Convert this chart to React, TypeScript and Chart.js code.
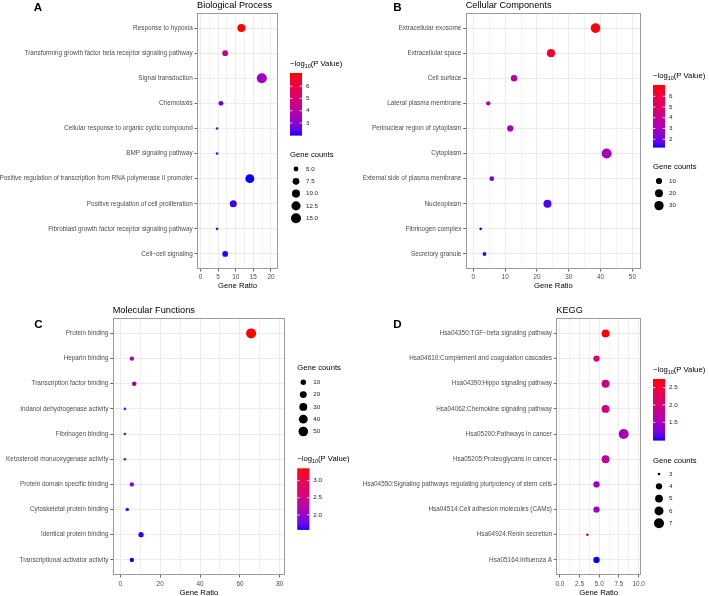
import React, { useEffect, useRef } from 'react';
import { Chart, registerables } from 'chart.js';
Chart.register(...registerables);

const FONT = '"Liberation Sans", Arial, Helvetica, sans-serif';
Chart.defaults.font.family = FONT;

// ---------- Panel A: Biological Process ----------
const bpTerms = [
  'Response to hypoxia',
  'Transforming growth factor beta receptor signaling pathway',
  'Signal transduction',
  'Chemotaxis',
  'Cellular response to organic cyclic compound',
  'BMP signaling pathway',
  'Positive regulation of transcription from RNA polymerase II promoter',
  'Positive regulation of cell proliferation',
  'Fibroblast growth factor receptor signaling pathway',
  'Cell\u2212cell signaling',
];
const bpRatio = [11.6, 7.0, 17.4, 5.8, 4.7, 4.7, 14.0, 9.3, 4.7, 7.0];
const bpCounts = [10, 6, 15, 5, 4, 4, 12, 8, 4, 6];
const bpLogP = [7.08, 4.3, 3.3, 2.6, 2.5, 2.27, 2.02, 2.17, 2.27, 2.1];
const bpXMajor = [0, 5, 10, 15, 20];
const bpXMinor = [2.5, 7.5, 12.5, 17.5];
const bpXLabels = ['0', '5', '10', '15', '20'];
const bpColorTicks = [3, 4, 5, 6];
const bpColorLabels = ['3', '4', '5', '6'];
const bpSizeTicks = [5, 7.5, 10, 12.5, 15];
const bpSizeLabels = ['5.0', '7.5', '10.0', '12.5', '15.0'];

// ---------- Panel B: Cellular Components ----------
const ccTerms = [
  'Extracellular exosome',
  'Extracellular space',
  'Cell surface',
  'Lateral plasma membrane',
  'Perinuclear region of cytoplasm',
  'Cytoplasm',
  'External side of plasma membrane',
  'Nucleoplasm',
  'Fibrinogen complex',
  'Secretory granule',
];
const ccRatio = [38.4, 24.4, 12.8, 4.7, 11.6, 41.9, 5.8, 23.3, 2.3, 3.5];
const ccCounts = [33, 21, 11, 4, 10, 36, 5, 20, 2, 3];
const ccLogP = [7.05, 6.5, 3.6, 3.3, 3.0, 3.0, 2.15, 1.57, 1.28, 1.45];
const ccXMajor = [0, 10, 20, 30, 40, 50];
const ccXMinor = [5, 15, 25, 35, 45];
const ccXLabels = ['0', '10', '20', '30', '40', '50'];
const ccColorTicks = [2, 3, 4, 5, 6];
const ccColorLabels = ['2', '3', '4', '5', '6'];
const ccSizeTicks = [10, 20, 30];
const ccSizeLabels = ['10', '20', '30'];

// ---------- Panel C: Molecular Functions ----------
const mfTerms = [
  'Protein binding',
  'Heparin binding',
  'Transcription factor binding',
  'Indanol dehydrogenase activity',
  'Fibrinogen binding',
  'Ketosteroid monooxygenase activity',
  'Protein domain specific binding',
  'Cytoskeletal protein binding',
  'Identical protein binding',
  'Transcriptional activator activity',
];
const mfRatio = [65.6, 5.8, 7.0, 2.3, 2.3, 2.3, 5.8, 3.5, 10.4, 5.8];
const mfCounts = [56, 5, 6, 2, 2, 2, 5, 3, 9, 5];
const mfLogP = [3.36, 2.1, 2.1, 1.94, 1.94, 1.94, 1.9, 1.76, 1.63, 1.58];
const mfXMajor = [0, 20, 40, 60, 80];
const mfXMinor = [10, 30, 50, 70];
const mfXLabels = ['0', '20', '40', '60', '80'];
const mfColorTicks = [2.0, 2.5, 3.0];
const mfColorLabels = ['2.0', '2.5', '3.0'];
const mfSizeTicks = [10, 20, 30, 40, 50];
const mfSizeLabels = ['10', '20', '30', '40', '50'];

// ---------- Panel D: KEGG ----------
const kgTerms = [
  'Hsa04350:TGF\u2212beta signaling pathway',
  'Hsa04610:Complement and coagulation cascades',
  'Hsa04390:Hippo signaling pathway',
  'Hsa04062:Chemokine signaling pathway',
  'Hsa05200:Pathways in cancer',
  'Hsa05205:Proteoglycans in cancer',
  'Hsa04550:Signaling pathways regulating pluripotency of stem cells',
  'Hsa04514:Cell adhesion molecules (CAMs)',
  'Hsa04924:Renin secretion',
  'Hsa05164:Influenza A',
];
const kgRatio = [5.8, 4.65, 5.8, 5.8, 8.1, 5.8, 4.65, 4.65, 3.5, 4.65];
const kgCounts = [5, 4, 5, 5, 7, 5, 4, 4, 3, 4];
const kgLogP = [2.75, 2.05, 1.87, 1.87, 1.52, 1.7, 1.43, 1.43, 1.43, 0.99];
const kgXMajor = [0, 2.5, 5, 7.5, 10];
const kgXMinor = [1.25, 3.75, 6.25, 8.75];
const kgXLabels = ['0.0', '2.5', '5.0', '7.5', '10.0'];
const kgColorTicks = [1.5, 2.0, 2.5];
const kgColorLabels = ['1.5', '2.0', '2.5'];
const kgSizeTicks = [3, 4, 5, 6, 7];
const kgSizeLabels = ['3', '4', '5', '6', '7'];

// ---------- colour (Lab interpolation blue -> red) ----------
const toLin = (c: number) => { c /= 255; return c <= 0.04045 ? c / 12.92 : Math.pow((c + 0.055) / 1.055, 2.4); };
const fromLin = (c: number) => { const v = c <= 0.0031308 ? 12.92 * c : 1.055 * Math.pow(Math.max(c, 0), 1 / 2.4) - 0.055; return Math.round(Math.min(1, Math.max(0, v)) * 255); };
const WX = 0.95047, WZ = 1.08883, EPS = 216 / 24389, KAP = 24389 / 27;
function rgbToLab(r: number, g: number, b: number) {
  const R = toLin(r), G = toLin(g), B = toLin(b);
  const X = (0.4124564 * R + 0.3575761 * G + 0.1804375 * B) / WX;
  const Y = 0.2126729 * R + 0.7151522 * G + 0.072175 * B;
  const Z = (0.0193339 * R + 0.119192 * G + 0.9503041 * B) / WZ;
  const f = (t: number) => (t > EPS ? Math.cbrt(t) : (KAP * t + 16) / 116);
  const fx = f(X), fy = f(Y), fz = f(Z);
  return [116 * fy - 16, 500 * (fx - fy), 200 * (fy - fz)];
}
function labToRgb(L: number, a: number, b: number) {
  const fy = (L + 16) / 116, fx = fy + a / 500, fz = fy - b / 200;
  const inv = (t: number) => (t * t * t > EPS ? t * t * t : (116 * t - 16) / KAP);
  const X = inv(fx) * WX, Y = L > 8 ? fy * fy * fy : L / KAP, Z = inv(fz) * WZ;
  const R = 3.2404542 * X - 1.5371385 * Y - 0.4985314 * Z;
  const G = -0.969266 * X + 1.8760108 * Y + 0.041556 * Z;
  const B = 0.0556434 * X - 0.2040259 * Y + 1.0572252 * Z;
  return `rgb(${fromLin(R)},${fromLin(G)},${fromLin(B)})`;
}
const LAB_LOW = rgbToLab(0, 0, 255);
const LAB_HIGH = rgbToLab(255, 0, 0);
function gradient(t: number) {
  const u = Math.min(1, Math.max(0, t));
  return labToRgb(
    LAB_LOW[0] + (LAB_HIGH[0] - LAB_LOW[0]) * u,
    LAB_LOW[1] + (LAB_HIGH[1] - LAB_LOW[1]) * u,
    LAB_LOW[2] + (LAB_HIGH[2] - LAB_LOW[2]) * u,
  );
}

const R_MIN = 1.3, R_MAX = 5.0;
const AXIS_FONT = 6.4;

type Box = {
  left: number; top: number; w: number; h: number;
  padTop: number; padRight: number; yWidth: number; xHeight: number; titlePad: number; tickPad: number;
  titleY: number; letterX: number; letterY: number;
  legX: number; cbTitleY: number; cbY: number; cbH: number; szTitleY: number; szY0: number;
};
type Panel = {
  letter: string; title: string; terms: string[]; ratio: number[]; counts: number[]; logp: number[];
  xMin: number; xMax: number; xMajor: number[]; xMinor: number[]; xLabels: string[];
  colorTicks: number[]; colorLabels: string[]; sizeTicks: number[]; sizeLabels: string[]; box: Box;
};

const panels: Panel[] = [
  {
    letter: 'A', title: 'Biological Process', terms: bpTerms, ratio: bpRatio, counts: bpCounts, logp: bpLogP,
    xMin: -1.0, xMax: 22.0, xMajor: bpXMajor, xMinor: bpXMinor, xLabels: bpXLabels,
    colorTicks: bpColorTicks, colorLabels: bpColorLabels, sizeTicks: bpSizeTicks, sizeLabels: bpSizeLabels,
    box: { left: 0, top: 0, w: 355, h: 298, padTop: 13, padRight: 77, yWidth: 197, xHeight: 29, titlePad: 7.2, tickPad: 2.3,
      titleY: 5, letterX: 38, letterY: 8, legX: 290, cbTitleY: 64, cbY: 73, cbH: 62, szTitleY: 155, szY0: 169 },
  },
  {
    letter: 'B', title: 'Cellular Components', terms: ccTerms, ratio: ccRatio, counts: ccCounts, logp: ccLogP,
    xMin: -2.4, xMax: 52.7, xMajor: ccXMajor, xMinor: ccXMinor, xLabels: ccXLabels,
    colorTicks: ccColorTicks, colorLabels: ccColorLabels, sizeTicks: ccSizeTicks, sizeLabels: ccSizeLabels,
    box: { left: 355, top: 0, w: 354, h: 298, padTop: 13, padRight: 68, yWidth: 110.7, xHeight: 29, titlePad: 7.2, tickPad: 2.3,
      titleY: 5, letterX: 42.5, letterY: 7.5, legX: 298, cbTitleY: 76, cbY: 85, cbH: 62, szTitleY: 167, szY0: 181 },
  },
  {
    letter: 'C', title: 'Molecular Functions', terms: mfTerms, ratio: mfRatio, counts: mfCounts, logp: mfLogP,
    xMin: -3.8, xMax: 82.6, xMajor: mfXMajor, xMinor: mfXMinor, xLabels: mfXLabels,
    colorTicks: mfColorTicks, colorLabels: mfColorLabels, sizeTicks: mfSizeTicks, sizeLabels: mfSizeLabels,
    box: { left: 0, top: 298, w: 355, h: 310, padTop: 20.3, padRight: 70, yWidth: 112.7, xHeight: 33, titlePad: 10.9, tickPad: 3,
      titleY: 12, letterX: 38.5, letterY: 27, legX: 297.3, cbTitleY: 161.3, cbY: 170.3, cbH: 61, szTitleY: 70.3, szY0: 84.3 },
  },
  {
    letter: 'D', title: 'KEGG', terms: kgTerms, ratio: kgRatio, counts: kgCounts, logp: kgLogP,
    xMin: -0.45, xMax: 10.3, xMajor: kgXMajor, xMinor: kgXMinor, xLabels: kgXLabels,
    colorTicks: kgColorTicks, colorLabels: kgColorLabels, sizeTicks: kgSizeTicks, sizeLabels: kgSizeLabels,
    box: { left: 355, top: 298, w: 354, h: 310, padTop: 20.3, padRight: 68, yWidth: 201.3, xHeight: 33, titlePad: 10.9, tickPad: 3,
      titleY: 12, letterX: 42.5, letterY: 27, legX: 298, cbTitleY: 72, cbY: 81, cbH: 61, szTitleY: 162.7, szY0: 176 },
  },
];

function PanelChart({ p }: { p: Panel }) {
  const ref = useRef<HTMLCanvasElement>(null);
  useEffect(() => {
    if (!ref.current) return;
    const B = p.box;
    const cmin = Math.min(...p.counts), cmax = Math.max(...p.counts);
    const vmin = Math.min(...p.logp), vmax = Math.max(...p.logp);
    const radius = (c: number) => R_MIN + (R_MAX - R_MIN) * Math.sqrt(Math.max(0, (c - cmin) / (cmax - cmin)));
    const color = (v: number) => gradient((v - vmin) / (vmax - vmin));
    const xTicks = [...p.xMajor, ...p.xMinor].sort((a, b) => a - b);
    const isMajor = (v: number) => p.xMajor.some((m) => Math.abs(m - v) < 1e-9);
    const labelFor = (v: number) => {
      const i = p.xMajor.findIndex((m) => Math.abs(m - v) < 1e-9);
      return i >= 0 ? p.xLabels[i] : '';
    };

    const drawLogTitle = (ctx: CanvasRenderingContext2D, x: number, y: number) => {
      ctx.fillStyle = '#000';
      ctx.textAlign = 'left';
      ctx.textBaseline = 'middle';
      ctx.font = `7.7px ${FONT}`;
      const s1 = '\u2212log';
      ctx.fillText(s1, x, y);
      let cx = x + ctx.measureText(s1).width;
      ctx.font = `5.4px ${FONT}`;
      ctx.fillText('10', cx, y + 2.2);
      cx += ctx.measureText('10').width;
      ctx.font = `7.7px ${FONT}`;
      ctx.fillText('(P Value)', cx, y);
    };

    const overlay = {
      id: 'overlay' + p.letter,
      afterDraw(chart: any) {
        const ctx: CanvasRenderingContext2D = chart.ctx;
        const a = chart.chartArea;
        ctx.save();
        // panel border
        ctx.strokeStyle = '#9a9a9a';
        ctx.lineWidth = 1;
        ctx.strokeRect(Math.round(a.left) + 0.5, Math.round(a.top) + 0.5, Math.round(a.right - a.left) - 1, Math.round(a.bottom - a.top) - 1);
        // title
        ctx.fillStyle = '#000';
        ctx.textAlign = 'left';
        ctx.textBaseline = 'middle';
        ctx.font = `9.2px ${FONT}`;
        ctx.fillText(p.title, a.left, B.titleY);
        // panel letter
        ctx.textAlign = 'center';
        ctx.font = `bold 11.6px ${FONT}`;
        ctx.fillText(p.letter, B.letterX, B.letterY);

        // colour bar
        const x = B.legX;
        drawLogTitle(ctx, x, B.cbTitleY);
        const n = Math.ceil(B.cbH);
        for (let i = 0; i < n; i++) {
          const t = 1 - (i + 0.5) / n;
          ctx.fillStyle = gradient(t);
          ctx.fillRect(x, B.cbY + (i * B.cbH) / n, 12, B.cbH / n + 0.6);
        }
        ctx.strokeStyle = '#ffffff';
        ctx.lineWidth = 0.8;
        ctx.textAlign = 'left';
        ctx.textBaseline = 'middle';
        ctx.font = `6.2px ${FONT}`;
        p.colorTicks.forEach((v, i) => {
          const yy = B.cbY + B.cbH - ((v - vmin) / (vmax - vmin)) * B.cbH;
          ctx.beginPath();
          ctx.moveTo(x, yy); ctx.lineTo(x + 2.4, yy);
          ctx.moveTo(x + 9.6, yy); ctx.lineTo(x + 12, yy);
          ctx.stroke();
          ctx.fillStyle = '#222';
          ctx.fillText(p.colorLabels[i], x + 16, yy);
        });

        // size legend
        ctx.fillStyle = '#000';
        ctx.font = `7.7px ${FONT}`;
        ctx.fillText('Gene counts', x, B.szTitleY);
        ctx.font = `6.2px ${FONT}`;
        p.sizeTicks.forEach((v, i) => {
          const yy = B.szY0 + i * 12.3;
          ctx.fillStyle = '#000';
          ctx.beginPath();
          ctx.arc(x + 6, yy, radius(v), 0, Math.PI * 2);
          ctx.fill();
          ctx.fillStyle = '#222';
          ctx.fillText(p.sizeLabels[i], x + 16, yy);
        });
        ctx.restore();
      },
    };

    const chart = new Chart(ref.current, {
      type: 'scatter',
      data: {
        datasets: [
          {
            data: p.ratio.map((r, i) => ({ x: r, y: i })),
            pointRadius: p.counts.map(radius),
            pointHoverRadius: p.counts.map(radius),
            pointBackgroundColor: p.logp.map(color),
            pointBorderWidth: 0,
            pointBorderColor: 'rgba(0,0,0,0)',
          } as any,
        ],
      },
      options: {
        animation: false,
        responsive: false,
        devicePixelRatio: 1,
        events: [],
        layout: { padding: { left: 0, right: B.padRight, top: B.padTop, bottom: 0 } },
        plugins: { legend: { display: false }, tooltip: { enabled: false }, title: { display: false } },
        scales: {
          x: {
            type: 'linear',
            min: p.xMin,
            max: p.xMax,
            afterBuildTicks: (ax: any) => { ax.ticks = xTicks.map((v) => ({ value: v })); },
            afterFit: (s: any) => { s.height = B.xHeight; },
            ticks: {
              callback: (v: any) => labelFor(Number(v)),
              autoSkip: false,
              maxRotation: 0,
              minRotation: 0,
              padding: B.tickPad,
              color: '#4D4D4D',
              font: { size: AXIS_FONT, family: FONT },
            },
            grid: {
              color: '#EBEBEB',
              lineWidth: (c: any) => (c.tick && isMajor(c.tick.value) ? 1 : 0.6),
              drawTicks: true,
              tickLength: 2.5,
              tickWidth: 0.8,
              tickColor: (c: any) => (c.tick && isMajor(c.tick.value) ? '#444' : 'rgba(0,0,0,0)'),
            },
            border: { display: false },
            title: { display: true, text: 'Gene Ratio', color: '#000', font: { size: 7.7, family: FONT }, padding: { top: 0, bottom: B.titlePad } },
          },
          y: {
            type: 'linear',
            reverse: true,
            min: -0.6,
            max: p.terms.length - 0.4,
            afterBuildTicks: (ax: any) => { ax.ticks = p.terms.map((_, i) => ({ value: i })); },
            afterFit: (s: any) => { s.width = B.yWidth; },
            ticks: {
              callback: (v: any) => p.terms[Math.round(Number(v))] ?? '',
              autoSkip: false,
              padding: 1.8,
              color: '#4D4D4D',
              font: { size: AXIS_FONT, family: FONT },
            },
            grid: { color: '#EBEBEB', lineWidth: 1, drawTicks: true, tickLength: 2.5, tickWidth: 0.8, tickColor: '#444' },
            border: { display: false },
          },
        },
      } as any,
      plugins: [overlay],
    });
    return () => chart.destroy();
  }, [p]);
  const B = p.box;
  return (
    <canvas
      ref={ref}
      width={B.w}
      height={B.h}
      style={{ position: 'absolute', left: B.left, top: B.top, width: B.w, height: B.h }}
    />
  );
}

export default function App() {
  return (
    <div style={{ position: 'absolute', left: 0, top: 0, width: 709, height: 596, overflow: 'hidden', background: '#fff' }}>
      {panels.map((p) => (
        <PanelChart key={p.letter} p={p} />
      ))}
    </div>
  );
}
